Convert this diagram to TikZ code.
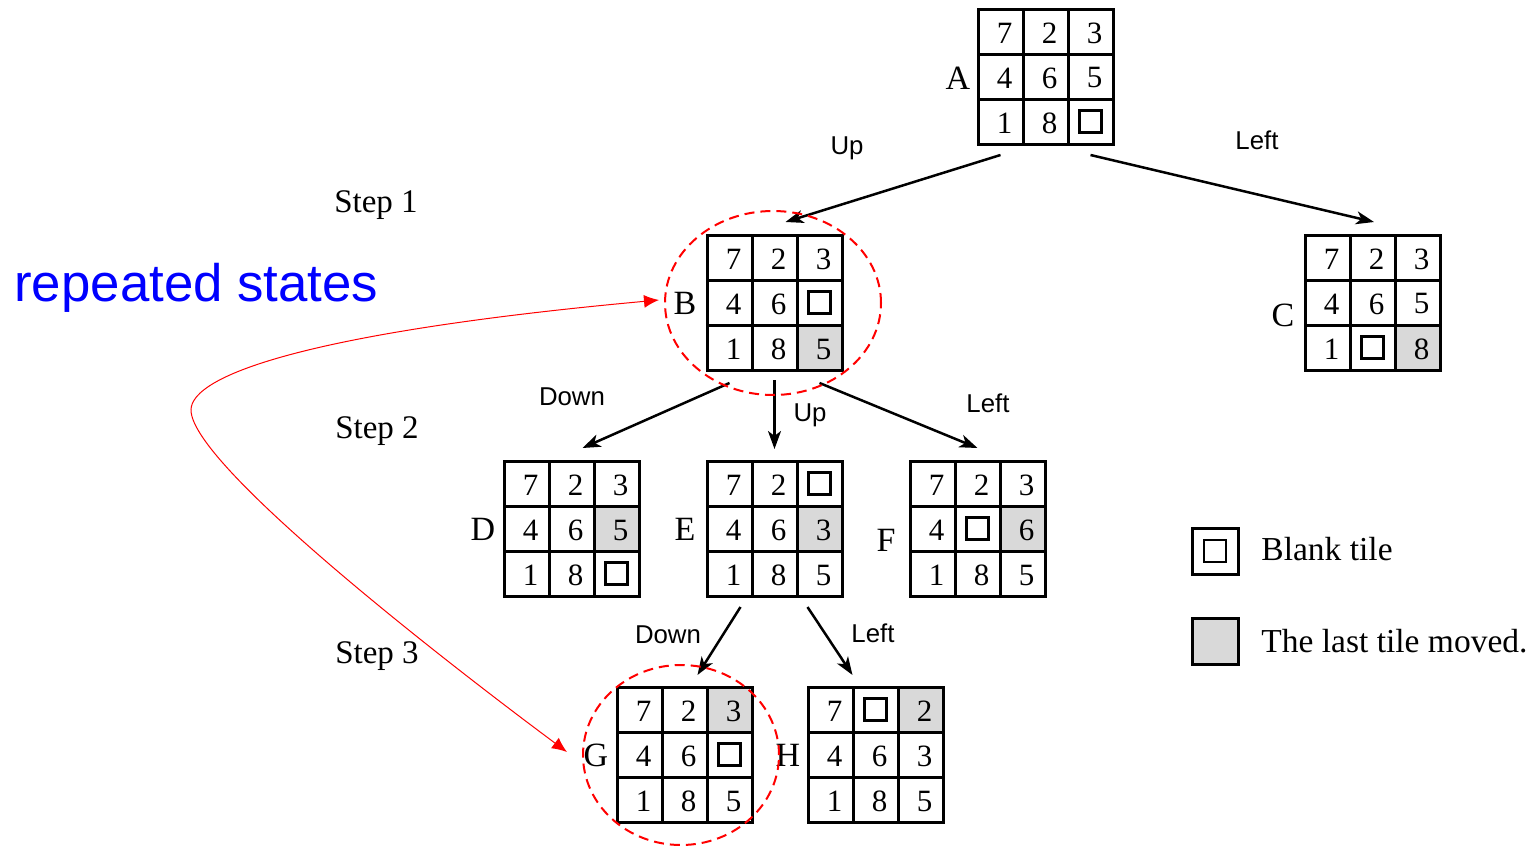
\documentclass[tikz,border=0pt]{standalone}
\usepackage{fontspec}
\setmainfont{Liberation Serif}
\newfontfamily\arialfont{Liberation Sans}
\usetikzlibrary{arrows.meta,shapes.geometric}
\definecolor{tilegray}{RGB}{217,217,217}
\tikzset{
  boardbox/.style={draw=black,line width=1.5pt,minimum size=67.5pt,inner sep=0pt,outer sep=0pt},
  gridline/.style={line width=1.5pt},
  digit/.style={font=\fontsize{15.5}{18}\selectfont,inner sep=0pt},
  blanktile/.style={draw=black,line width=1.2pt,minimum size=11pt,inner sep=0pt},
  statelabel/.style={font=\fontsize{17}{20}\selectfont,inner sep=0pt},
  steplabel/.style={font=\fontsize{16.5}{20}\selectfont,inner sep=0pt},
  legendtext/.style={font=\fontsize{16.75}{20}\selectfont,inner sep=0pt,anchor=west},
  movelabel/.style={font=\arialfont\fontsize{12.9}{15}\selectfont,inner sep=0pt},
  movearrow/.style={line width=1.25pt,-{Stealth[length=9pt,width=6.5pt,inset=2.5pt]}},
  ring/.style={ellipse,draw=red,line width=1pt,dash pattern=on 5pt off 3pt,inner sep=0pt},
  redlink/.style={draw=red,line width=0.5pt,{Latex[length=7.5pt,width=6.5pt]}-{Latex[length=7.5pt,width=6.5pt]}},
}
% #1 name, #2 left x, #3 top y, #4 entries, #5 shaded index (-1 none), #6 blank index
\newcommand{\puzzleboard}[6]{%
  \begin{scope}[shift={(#2,#3)}]
    \ifnum#5>-1
      \pgfmathsetmacro\shx{int(mod(#5,3))*45}%
      \pgfmathsetmacro\shy{int(floor(#5/3))*45}%
      \fill[tilegray] (\shx,\shy) rectangle ++(45,45);
    \fi
    \draw[gridline] (45,0) -- (45,135) (90,0) -- (90,135) (0,45) -- (135,45) (0,90) -- (135,90);
    \foreach \v [count=\i from 0] in {#4} {
      \pgfmathsetmacro\tx{int(mod(\i,3))*45+22.5}
      \pgfmathsetmacro\ty{int(floor(\i/3))*45+22.5}
      \ifnum\i=#6
        \node[blanktile] (#1-blank) at (\tx,\ty) {};
      \else
        \node[digit] (#1-\i) at (\tx+4,\ty+1.5) {\v};
      \fi
    }
    \node[boardbox] (#1) at (67.5,67.5) {};
  \end{scope}}
\begin{document}
\begin{tikzpicture}[x=0.5pt,y=-0.5pt]
\useasboundingbox (0,0) rectangle (1533,846);
\fill[white] (0,0) rectangle (1533,846);

% boards
\puzzleboard{A}{978}{9}{7,2,3,4,6,5,1,8,0}{-1}{8}
\puzzleboard{B}{707}{235}{7,2,3,4,6,0,1,8,5}{8}{5}
\puzzleboard{C}{1305}{235}{7,2,3,4,6,5,1,0,8}{8}{7}
\puzzleboard{D}{504}{461}{7,2,3,4,6,5,1,8,0}{5}{8}
\puzzleboard{E}{707}{461}{7,2,0,4,6,3,1,8,5}{5}{2}
\puzzleboard{F}{910}{461}{7,2,3,4,0,6,1,8,5}{5}{4}
\puzzleboard{G}{617}{687}{7,2,3,4,6,0,1,8,5}{2}{5}
\puzzleboard{H}{808}{687}{7,0,2,4,6,3,1,8,5}{2}{1}

% state letters
\node[statelabel] (labA) at (958,78) {A};
\node[statelabel] (labB) at (685,303) {B};
\node[statelabel] (labC) at (1283,315) {C};
\node[statelabel] (labD) at (483,529) {D};
\node[statelabel] (labE) at (685,529) {E};
\node[statelabel] (labF) at (886,540) {F};
\node[statelabel] (labG) at (596,755) {G};
\node[statelabel] (labH) at (788,755) {H};

% steps
\node[steplabel] (step1) at (376,205) {Step 1};
\node[steplabel] (step2) at (377,431) {Step 2};
\node[steplabel] (step3) at (377,656) {Step 3};

% move arrows
\draw[movearrow] ([shift={(-45,11)}]A.south) -- ([shift={(11,-13)}]B.north);
\draw[movearrow] ([shift={(45,11)}]A.south) -- ([shift={(1.5,-13)}]C.north);
\draw[movearrow] ([shift={(-45,13)}]B.south) -- ([shift={(11,-13)}]D.north);
\draw[movearrow] ([shift={(0,10)}]B.south) -- ([shift={(0,-12)}]E.north);
\draw[movearrow] ([shift={(45,13)}]B.south) -- ([shift={(0,-13)}]F.north);
\draw[movearrow] ([shift={(-34,11)}]E.south) -- ([shift={(13,-12)}]G.north);
\draw[movearrow] ([shift={(33,11)}]E.south) -- ([shift={(-23,-12)}]H.north);

% move labels
\node[movelabel] (mvAB) at (847,148) {Up};
\node[movelabel] (mvAC) at (1257,140) {Left};
\node[movelabel] (mvBD) at (572,397) {Down};
\node[movelabel] (mvBE) at (810,415) {Up};
\node[movelabel] (mvBF) at (988,403) {Left};
\node[movelabel] (mvEG) at (668,635) {Down};
\node[movelabel] (mvEH) at (873,633) {Left};

% repeated-state rings
\node[ring,minimum width=108pt,minimum height=92pt] (ringB) at (773,303) {};
\node[ring,minimum width=98pt,minimum height=90pt] (ringG) at (681,755) {};

\node[font=\arialfont\fontsize{26.4}{30}\selectfont,text=blue,anchor=base west,inner sep=0pt] (rep) at (14,301) {repeated states};

\draw[redlink] ([shift={(-15,-3)}]ringG.west) .. controls (450,665) and (191,465) .. (191,410)
  .. controls (191,375) and (310,332) .. ([shift={(-5,-3)}]ringB.west);

% legend
\node[boardbox,minimum size=23pt] (legblank) at (1215,551) {};
\node[blanktile] (legblankin) at (legblank.center) {};
\node[boardbox,minimum size=23pt,fill=tilegray] (leggray) at (1215,641) {};
\node[legendtext] (legt1) at (1261,549) {Blank tile};
\node[legendtext] (legt2) at (1261,641) {The last tile moved.};
\end{tikzpicture}
\end{document}
